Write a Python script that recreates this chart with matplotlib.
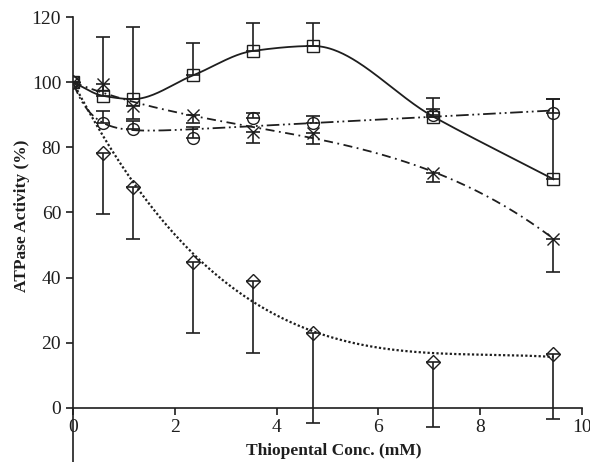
import numpy as np
import matplotlib
matplotlib.use("Agg")
import matplotlib.pyplot as plt

# thiopental concentration (mM)
conc = [0, 0.59, 1.18, 2.36, 3.54, 4.72, 7.08, 9.44]

# ATPase activity (%) per series
squares = [100, 95.8, 94.8, 102.1, 109.6, 111.1, 89.4, 70.2]
squares_err_up = [0, 18.0, 22.0, 9.8, 8.6, 7.1, 5.8, 24.5]

circles = [100, 87.5, 85.6, 83.0, 88.9, 87.5, 89.9, 90.6]
circles_err_up = [0, 3.6, 2.4, 3.1, 1.5, 2.1, 2.0, 4.1]

crosses = [100, 99.3, 92.6, 89.9, 84.8, 84.3, 72.0, 52.0]
crosses_err_down = [0, 2.0, 4.0, 2.5, 3.4, 3.3, 2.6, 10.4]

diamonds = [100, 78.3, 67.7, 44.9, 39.1, 23.1, 14.2, 16.5]
diamonds_err_down = [0, 18.9, 15.7, 22.0, 22.3, 27.6, 20.2, 20.0]


def smooth_line(x, y, n=300):
    # monotone cubic (Fritsch-Carlson) curve through every point
    x = np.asarray(x, float)
    y = np.asarray(y, float)
    h = np.diff(x)
    d = np.diff(y) / h
    m = np.zeros_like(y)
    m[0], m[-1] = d[0], d[-1]
    for i in range(1, len(x) - 1):
        if d[i - 1] * d[i] > 0:
            w1 = 2 * h[i] + h[i - 1]
            w2 = h[i] + 2 * h[i - 1]
            m[i] = (w1 + w2) / (w1 / d[i - 1] + w2 / d[i])
    xf = np.linspace(x[0], x[-1], n)
    k = np.clip(np.searchsorted(x, xf) - 1, 0, len(x) - 2)
    t = (xf - x[k]) / h[k]
    h00 = 2 * t ** 3 - 3 * t ** 2 + 1
    h10 = t ** 3 - 2 * t ** 2 + t
    h01 = -2 * t ** 3 + 3 * t ** 2
    h11 = t ** 3 - t ** 2
    yf = h00 * y[k] + h10 * h[k] * m[k] + h01 * y[k + 1] + h11 * h[k] * m[k + 1]
    return xf, yf


def trend_poly(x, y, deg):
    # polynomial trendline with intercept fixed at 100
    x = np.asarray(x, float)
    y = np.asarray(y, float)
    A = np.column_stack([x ** k for k in range(1, deg + 1)])
    coef, *_ = np.linalg.lstsq(A, y - 100, rcond=None)
    xf = np.linspace(x[0], x[-1], 300)
    return xf, 100 + np.column_stack([xf ** k for k in range(1, deg + 1)]) @ coef


def trend_exp(x, y):
    # 100 + b*x + c*(exp(-k*x) - 1), best k from a grid
    x = np.asarray(x, float)
    y = np.asarray(y, float)
    best = None
    for kk in np.linspace(0.2, 5, 97):
        A = np.column_stack([x, np.exp(-kk * x) - 1])
        coef, *_ = np.linalg.lstsq(A, y - 100, rcond=None)
        err = np.sum((A @ coef - (y - 100)) ** 2)
        if best is None or err < best[0]:
            best = (err, kk, coef)
    _, kk, coef = best
    xf = np.linspace(x[0], x[-1], 300)
    return xf, 100 + coef[0] * xf + coef[1] * (np.exp(-kk * xf) - 1)


plt.rcParams["font.family"] = ["Liberation Serif", "DejaVu Serif"]
ink = "#1e1e1e"

fig = plt.figure(figsize=(5.9, 4.62), dpi=100)
ax = fig.add_axes([73 / 590, 0, 509 / 590, 445 / 462])

sx, sy = smooth_line(conc, squares)
ax.plot(sx, sy, color=ink, lw=1.3)

cx, cy = trend_exp(conc, circles)
ax.plot(cx, cy, color=ink, lw=1.3, dashes=(7, 2, 1, 2, 1, 2))

xx, xy = trend_poly(conc, crosses, 3)
ax.plot(xx, xy, color=ink, lw=1.3, dashes=(5, 2.5, 1, 2.5))

dx, dy = trend_poly(conc, diamonds, 3)
ax.plot(dx, dy, color=ink, lw=1.6, dashes=(1, 1))

zeros = [0] * len(conc)
eb = dict(fmt="none", ecolor=ink, elinewidth=1.2, capsize=5, capthick=1.2)
ax.errorbar(conc, squares, yerr=[zeros, squares_err_up], **eb)
ax.errorbar(conc, circles, yerr=[zeros, circles_err_up], **eb)
ax.errorbar(conc, crosses, yerr=[crosses_err_down, zeros], **eb)
ax.errorbar(conc, diamonds, yerr=[diamonds_err_down, zeros], **eb)

mk = dict(ls="none", mfc="none", mec=ink, mew=1.0)
ax.plot(conc, squares, marker="s", ms=8.5, **mk)
ax.plot(conc, circles, marker="o", ms=8.5, **mk)
ax.plot(conc, crosses, marker="x", ms=9, **mk)
ax.plot(conc, diamonds, marker="D", ms=7, **mk)

ax.set_xlim(0, 10)
ax.set_ylim(-16.6, 120)
ax.spines["top"].set_visible(False)
ax.spines["right"].set_visible(False)
ax.spines["bottom"].set_position(("data", 0))
ax.spines["left"].set_linewidth(1.2)
ax.spines["bottom"].set_linewidth(1.2)
ax.spines["left"].set_color(ink)
ax.spines["bottom"].set_color(ink)
ax.set_xticks([0, 2, 4, 6, 8, 10])
ax.set_yticks([0, 20, 40, 60, 80, 100, 120])
ax.tick_params(axis="both", direction="out", length=5, width=1.2, labelsize=14, colors=ink)
ax.tick_params(axis="x", pad=3)

ax.set_xlabel("Thiopental Conc. (mM)", fontsize=12.5, fontweight="bold", color=ink)
ax.xaxis.set_label_coords(261 / 509, (462 - 443) / 445)
ax.set_ylabel("ATPase Activity (%)", fontsize=12.5, fontweight="bold", color=ink)
ax.yaxis.set_label_coords(-0.085, (462 - 216) / 445)

fig.savefig("out.png", dpi=100)
